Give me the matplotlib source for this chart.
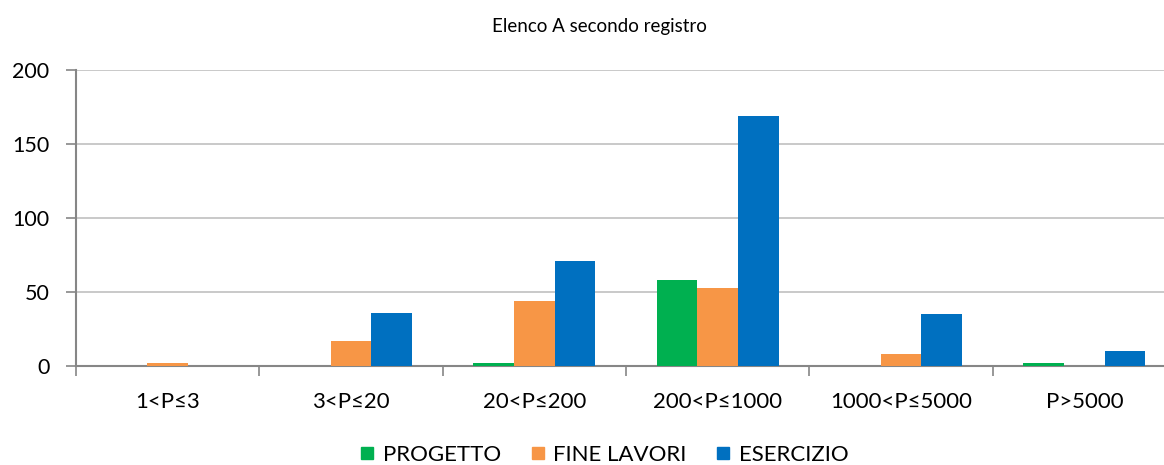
import numpy as np
import matplotlib
matplotlib.use("Agg")
import matplotlib.pyplot as plt
from matplotlib.ticker import FixedLocator

plt.rcParams['font.family'] = ['Lato', 'DejaVu Sans']

categories = ['1<P≤3', '3<P≤20', '20<P≤200', '200<P≤1000', '1000<P≤5000', 'P>5000']
series_names = ['PROGETTO', 'FINE LAVORI', 'ESERCIZIO']
progetto = [0, 0, 2, 58, 0, 2]
fine_lavori = [2, 17, 44, 53, 8, 0]
esercizio = [0, 36, 71, 169, 35, 10]
colors = ['#00B050', '#F79646', '#0070C0']

fig = plt.figure(figsize=(11.64, 4.65), dpi=100)
# the plot area runs a bit past the right edge of the picture, as in the original
ax = fig.add_axes([0.0653, 0.213, 0.945, 0.636])

x = np.arange(len(categories))
w = 0.222
for i, (vals, name, col) in enumerate(zip([progetto, fine_lavori, esercizio], series_names, colors)):
    ax.bar(x + (i - 1) * w, vals, width=w, color=col, label=name, zorder=3)

ax.set_xlim(-0.5, len(categories) - 0.5)
ax.set_ylim(0, 200)
ax.set_yticks([0, 50, 100, 150, 200])
ax.yaxis.grid(True, color='#c0c0c0', linewidth=1.2, zorder=0)

ax.set_xticks(x)
ax.set_xticklabels(categories)
ax.xaxis.set_minor_locator(FixedLocator(np.arange(len(categories) + 1) - 0.5))
ax.tick_params(axis='x', which='major', length=0, pad=19, labelsize=16)
ax.tick_params(axis='x', which='minor', length=7, width=1.2, color='#868686', direction='out')
ax.tick_params(axis='y', length=7, width=1.2, color='#868686', labelsize=15.5, pad=12)

for s in ['top', 'right']:
    ax.spines[s].set_visible(False)
for s in ['left', 'bottom']:
    ax.spines[s].set_color('#868686')
    ax.spines[s].set_linewidth(1.5)

fig.text(0.515, 0.944, 'Elenco A secondo registro', ha='center', va='center', fontsize=13.5)

handles = [plt.Line2D([], [], marker='s', linestyle='', markersize=9, color=c) for c in colors]
fig.legend(handles, series_names, loc='center', bbox_to_anchor=(0.519, 0.022), ncol=3,
           frameon=False, fontsize=16, handletextpad=0.35, columnspacing=1.3, handlelength=0.7)

fig.savefig('out.png', dpi=100)
